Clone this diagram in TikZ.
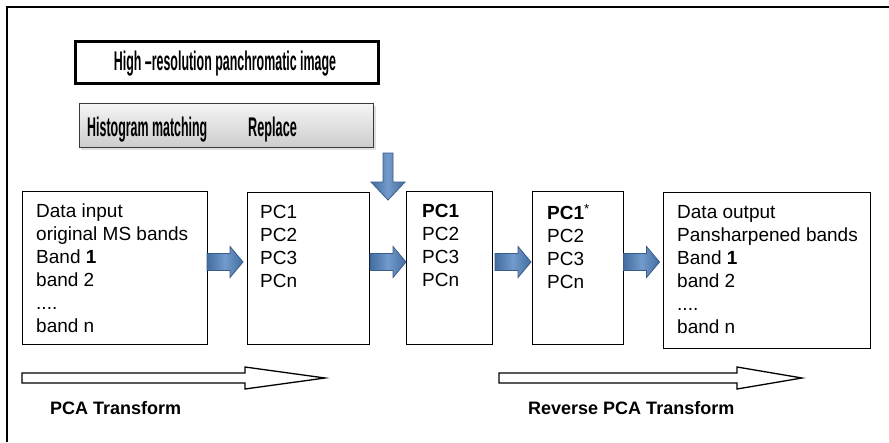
\documentclass[tikz,border=0pt]{standalone}
\usepackage{fontspec}
\setmainfont{Liberation Sans}
\usetikzlibrary{calc}
\definecolor{arrowblue}{RGB}{79,129,189}
\definecolor{arrowedge}{RGB}{56,93,138}
\begin{document}
\begin{tikzpicture}[x=1pt,y=-1pt,
  box/.style={draw=black, line width=1.2pt, fill=white, rectangle, inner sep=0pt, anchor=north west},
  txt/.style={anchor=north west, inner sep=0pt, align=left, font=\fontsize{19}{23}\selectfont},
  bluefill/.style={draw=arrowedge, line width=0.8pt, left color=arrowblue!85!black, right color=arrowblue!85!black, middle color=arrowblue!80!white, line join=miter},
  bluefillv/.style={draw=arrowedge, line width=0.8pt, top color=arrowblue!85!black, bottom color=arrowblue!85!black, middle color=arrowblue!80!white, line join=miter, shading angle=90},
  rblock/.pic={\path[bluefillv] (-18,-8.5) -- (5,-8.5) -- (5,-15.5) -- (18,0) -- (5,15.5) -- (5,8.5) -- (-18,8.5) -- cycle;},
  dblock/.pic={\path[bluefill] (-5,-23.5) -- (5,-23.5) -- (5,5.5) -- (17,5.5) -- (0,23.5) -- (-17,5.5) -- (-5,5.5) -- cycle;},
  hollow/.style={draw=black, line width=1.3pt, fill=white, line join=miter},
  cond/.style={font=\fontsize{27}{31}\selectfont\bfseries, inner sep=0pt},
  caption/.style={font=\fontsize{18}{21}\selectfont\bfseries, anchor=base west, inner sep=0pt}]
\useasboundingbox (0,0) rectangle (889,442);
\fill[white] (0,0) rectangle (889,442);
\draw[line width=2pt] (7,442) -- (7,7) -- (889,7);

% top boxes
\fill[gray!20] (76,43) rectangle (380,85);
\node[box, line width=2.6pt, minimum width=303pt, minimum height=42pt] (pan) at (74,40) {};
\node[cond, anchor=base] (pantext) at (225,70) {\scalebox{0.46}[1]{High –resolution panchromatic image}};
\fill[gray!25] (81,106) rectangle (376,150);
\node[box, draw=gray!45!black, line width=1pt, top color=gray!8, bottom color=gray!40, minimum width=294pt, minimum height=44pt] (hist) at (79,103) {};
\node[cond, anchor=base west] (histtext) at (87,136) {\scalebox{0.46}[1]{Histogram matching}};
\node[cond, anchor=base west] (repl) at (248,136) {\scalebox{0.47}[1]{Replace}};

% main boxes
\node[box, minimum width=185pt, minimum height=153pt] (b1) at (22,191) {};
\node[box, minimum width=122pt, minimum height=152pt] (b2) at (247,192) {};
\node[box, minimum width=86pt, minimum height=153pt] (b3) at (406,191) {};
\node[box, minimum width=91pt, minimum height=153pt] (b4) at (532,191) {};
\node[box, minimum width=207pt, minimum height=156pt] (b5) at (663,192) {};

\node[txt] (t1) at ($(b1.north west)+(14,13)$) {Data input\\original MS bands\\Band \textbf{1}\\band 2\\....\\band n};
\node[txt] (t2) at ($(b2.north west)+(13,13)$) {PC1\\PC2\\PC3\\PCn};
\node[txt] (t3) at ($(b3.north west)+(16,13)$) {\textbf{PC1}\\PC2\\PC3\\PCn};
\node[txt] (t4) at ($(b4.north west)+(15,13)$) {\textbf{PC1}\textsuperscript{*}\\PC2\\PC3\\PCn};
\node[txt] (t5) at ($(b5.north west)+(14,13)$) {Data output\\Pansharpened bands\\Band \textbf{1}\\band 2\\....\\band n};

% blue block arrows
\pic (a1) at (225,262) {rblock};
\pic (a2) at (388,262) {rblock};
\pic (a3) at (513,262) {rblock};
\pic (a4) at (641.5,262) {rblock};
\pic (down) at (388,176.5) {dblock};

% hollow transform arrows
\draw[hollow] (22,373) -- (245,373) -- (245,367) -- (325,378) -- (245,389) -- (245,383) -- (22,383) -- cycle;
\draw[hollow] (499,373) -- (737,373) -- (737,367) -- (802,378) -- (737,389) -- (737,383) -- (499,383) -- cycle;

\node[caption] (pca) at (50,414) {PCA Transform};
\node[caption] (rpca) at (528,414) {Reverse PCA Transform};
\end{tikzpicture}
\end{document}
